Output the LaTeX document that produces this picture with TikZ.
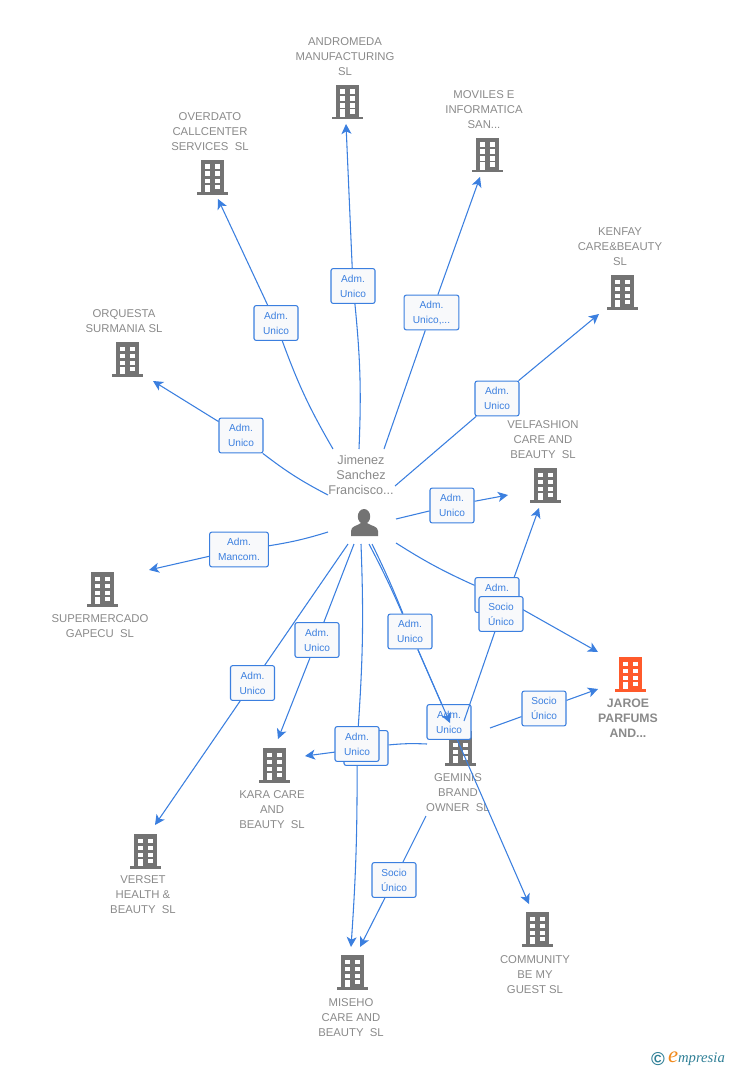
\documentclass[tikz,border=0pt]{standalone}
\usepackage{fontspec}
\setmainfont{Liberation Sans}
\newfontfamily\brandfont[Scale=1]{Liberation Serif}
\usetikzlibrary{arrows.meta,positioning}
\definecolor{linkblue}{HTML}{3B7FDF}
\definecolor{boxfill}{HTML}{F8F9FB}
\definecolor{bldgray}{HTML}{737373}
\definecolor{namegray}{HTML}{8A8A8A}
\definecolor{bldorange}{HTML}{FF5A2B}
\definecolor{logoteal}{HTML}{2F7F96}
\definecolor{logoorange}{HTML}{F08A1D}
\pgfdeclarelayer{boxes}
\pgfdeclarelayer{top}
\pgfsetlayers{main,boxes,top}
\tikzset{
	x=0.75pt,y=-0.75pt,
	link/.style={draw=linkblue,line width=0.8pt},
	linkto/.style={link,-{Stealth[length=7.5pt,width=7.5pt,inset=2pt]}},
	tagbox/.style={draw=linkblue,fill=boxfill,line width=0.8pt,rounded corners=1.5pt,text=linkblue,font=\fontsize{7.6}{11.25}\selectfont,align=center,inner sep=0pt,minimum width=33pt,minimum height=26pt},
	cname/.style={text=namegray,font=\fontsize{8.5}{11.25}\selectfont,align=center,inner sep=0pt},
	pics/building/.style={code={
		\fill[#1] (-11.5,-17) rectangle (11.5,15);
		\fill[#1] (-15.5,15) rectangle (15.5,17.5);
		\foreach \wy in {-12.5,-5.5,1.5}{
			\fill[white] (-7,\wy) rectangle (-2,\wy+4.5);
			\fill[white] (3,\wy) rectangle (7.5,\wy+4.5);
		}
		\fill[white] (-7,7.5) rectangle (-2,15);
		\fill[white] (3,7.5) rectangle (7.5,12);
	}},
	pics/building/.default=bldgray
}
\begin{document}
\begin{tikzpicture}
	\useasboundingbox (0,0) rectangle (728,1070);
	%% the buildings
	\pic (bAndromeda) at (347,102) {building};
	\pic (bOverdato) at (212,177) {building};
	\pic (bMoviles) at (487,155) {building};
	\pic (bKenfay) at (622,292) {building};
	\pic (bOrquesta) at (127,359) {building};
	\pic (bVelfashion) at (545,485) {building};
	\pic (bGapecu) at (102,589) {building};
	\pic (bJaroe) at (630,674) {building=bldorange};
	\pic (bGeminis) at (460,748) {building};
	\pic (bKara) at (274,765) {building};
	\pic (bVerset) at (145,851) {building};
	\pic (bCommunity) at (537,929) {building};
	\pic (bMiseho) at (352,972) {building};
	%% the names
	\node[cname] (andromeda) at (345,57) {ANDROMEDA\\MANUFACTURING\\SL};
	\node[cname] (overdato) at (210,132) {OVERDATO\\CALLCENTER\\SERVICES\ \ SL};
	\node[cname] (moviles) at (484,110) {MOVILES E\\INFORMATICA\\SAN...};
	\node[cname] (kenfay) at (620,247) {KENFAY\\CARE\&BEAUTY\\SL};
	\node[cname] (orquesta) at (124,321) {ORQUESTA\\SURMANIA SL};
	\node[cname] (velfashion) at (543,440) {VELFASHION\\CARE AND\\BEAUTY\ \ SL};
	\node[cname] (gapecu) at (100,626) {SUPERMERCADO\\GAPECU\ \ SL};
	\node[cname,font=\fontsize{9.2}{11.25}\selectfont\bfseries] (jaroe) at (628,718) {JAROE\\PARFUMS\\AND...};
	\node[cname] (geminis) at (458,793) {GEMINIS\\BRAND\\OWNER\ \ SL};
	\node[cname] (kara) at (272,810) {KARA CARE\\AND\\BEAUTY\ \ SL};
	\node[cname] (verset) at (143,895) {VERSET\\HEALTH \&\\BEAUTY\ \ SL};
	\node[cname] (community) at (535,975) {COMMUNITY\\BE MY\\GUEST SL};
	\node[cname] (miseho) at (351,1018) {MISEHO\\CARE AND\\BEAUTY\ \ SL};
	\node[cname,font=\fontsize{9.5}{11.25}\selectfont] (jimenez) at (361,475) {Jimenez\\Sanchez\\Francisco...};
	%% the person
	\fill[bldgray] (364,516.5) ellipse (6.2 and 7.5);
	\fill[bldgray] (351,536) -- (351,531) .. controls (351,526) and (357,526) .. (361,523) -- (367,523) .. controls (371,526) and (378,526) .. (378,531) -- (378,536) -- cycle;
	%% the free ends
	\coordinate (sAndromeda) at (359,449);
	\coordinate (sOverdato) at (333,449);
	\coordinate (sMoviles) at (384,449);
	\coordinate (sKenfay) at (395,486);
	\coordinate (sOrquesta) at (328,495);
	\coordinate (sVelfashion) at (396,519);
	\coordinate (sGapecu) at (328,532);
	\coordinate (sKara) at (354,544);
	\coordinate (sVerset) at (348,544);
	\coordinate (sMiseho) at (361,544);
	\coordinate (sGeminis) at (369,544);
	\coordinate (sCommunity) at (372,544);
	\coordinate (sJaroe) at (396,543);
	\coordinate (gVelfashion) at (464,721);
	\coordinate (gJaroe) at (490,728);
	\coordinate (gKara) at (427,744);
	\coordinate (gMiseho) at (426,816);
	\coordinate (eAndromeda) at (346,124);
	\coordinate (eOverdato) at (218,199);
	\coordinate (eMoviles) at (480,177);
	\coordinate (eKenfay) at (599,314);
	\coordinate (eOrquesta) at (153,381);
	\coordinate (eVelfashion) at (508,495);
	\coordinate (eVelfashionB) at (539,508);
	\coordinate (eGapecu) at (149,570);
	\coordinate (eKara) at (278,739);
	\coordinate (eKaraB) at (305,756);
	\coordinate (eVerset) at (155,825);
	\coordinate (eMiseho) at (351,947);
	\coordinate (eMisehoB) at (360,947);
	\coordinate (eGeminis) at (450,723);
	\coordinate (eCommunity) at (529,904);
	\coordinate (eJaroe) at (598,652);
	\coordinate (eJaroeB) at (598,689);
	%% the labels
	\begin{pgfonlayer}{boxes}
		\node[tagbox] (tAndromeda) at (353,286) {Adm.\\Unico};
		\node[tagbox] (tOverdato) at (276,323) {Adm.\\Unico};
		\node[tagbox,minimum width=41pt] (tMoviles) at (431.5,312.5) {Adm.\\Unico,...};
		\node[tagbox] (tKenfay) at (497,398.5) {Adm.\\Unico};
		\node[tagbox] (tOrquesta) at (241,435.5) {Adm.\\Unico};
		\node[tagbox] (tVelfashion) at (452,505.5) {Adm.\\Unico};
		\node[tagbox,minimum width=44pt] (tGapecu) at (239,549.5) {Adm.\\Mancom.};
		\node[tagbox] (tKara) at (317,640) {Adm.\\Unico};
		\node[tagbox] (tVerset) at (252.5,683) {Adm.\\Unico};
		\node[tagbox] (tJaroe) at (497,595) {Adm.\\Unico};
		\node[tagbox] (tVelfashionB) at (501,614) {Socio\\Único};
		\node[tagbox] (tCommunity) at (410,631.5) {Adm.\\Unico};
		\node[tagbox] (tKaraB) at (366,748) {Adm.\\Unico};
		\node[tagbox] (tMiseho) at (357,744) {Adm.\\Unico};
		\node[tagbox] (tJaroeB) at (544,708.5) {Socio\\Único};
		\node[tagbox] (tGeminis) at (449,722) {Adm.\\Unico};
		\node[tagbox] (tMisehoB) at (394,880) {Socio\\Único};
	\end{pgfonlayer}
	%% the links
	\draw[link] (sAndromeda) to[bend right=4] (tAndromeda);
	\draw[linkto] (tAndromeda) -- (eAndromeda);
	\draw[link] (sOverdato) to[bend left=5] (tOverdato);
	\draw[linkto] (tOverdato) -- (eOverdato);
	\draw[link] (sMoviles) -- (tMoviles);
	\draw[linkto] (tMoviles) -- (eMoviles);
	\draw[link] (sKenfay) -- (tKenfay);
	\draw[linkto] (tKenfay) -- (eKenfay);
	\draw[link] (sOrquesta) to[bend left=5] (tOrquesta);
	\draw[linkto] (tOrquesta) -- (eOrquesta);
	\draw[link] (sVelfashion) -- (tVelfashion);
	\draw[linkto] (tVelfashion) -- (eVelfashion);
	\draw[link] (sGapecu) to[bend left=4] (tGapecu);
	\draw[linkto] (tGapecu) -- (eGapecu);
	\draw[link] (sKara) -- (tKara);
	\draw[linkto] (tKara) -- (eKara);
	\draw[link] (sVerset) -- (tVerset);
	\draw[linkto] (tVerset) -- (eVerset);
	\draw[link] (sMiseho) to[bend left=3] (tMiseho);
	\draw[linkto] (tMiseho) to[bend left=2] (eMiseho);
	\draw[link] (sJaroe) to[bend right=4] (tJaroe);
	\draw[linkto] (tJaroe) -- (eJaroe);
	\draw[link] (sCommunity) to[bend left=2] (tCommunity);
	\draw[linkto] (tCommunity) -- (eCommunity);
	\draw[link] (sGeminis) to[bend left=2] (tCommunity);
	\draw[link] (gKara) to[bend right=4] (tKaraB);
	\draw[linkto] (tKaraB) -- (eKaraB);
	\draw[link] (gMiseho) -- (tMisehoB);
	\draw[linkto] (tMisehoB) -- (eMisehoB);
	\draw[link] (gJaroe) -- (tJaroeB);
	\draw[linkto] (tJaroeB) -- (eJaroeB);
	\draw[linkto] (tVelfashionB) -- (eVelfashionB);
	\begin{pgfonlayer}{top}
		\draw[linkto] (tCommunity) -- (eGeminis);
		\draw[link] (gVelfashion) -- (tVelfashionB);
	\end{pgfonlayer}
	%% the mark
	\node[text=logoteal,font=\fontsize{14}{14}\selectfont\bfseries,inner sep=0pt] (copymark) at (658,1059) {©};
	\node[right=2pt of copymark,inner sep=0pt,text=logoteal,font=\brandfont\fontsize{11}{12}\selectfont\itshape] (brand) {{\color{logoorange}\fontsize{17}{15}\selectfont e}mpresia};
\end{tikzpicture}
\end{document}
